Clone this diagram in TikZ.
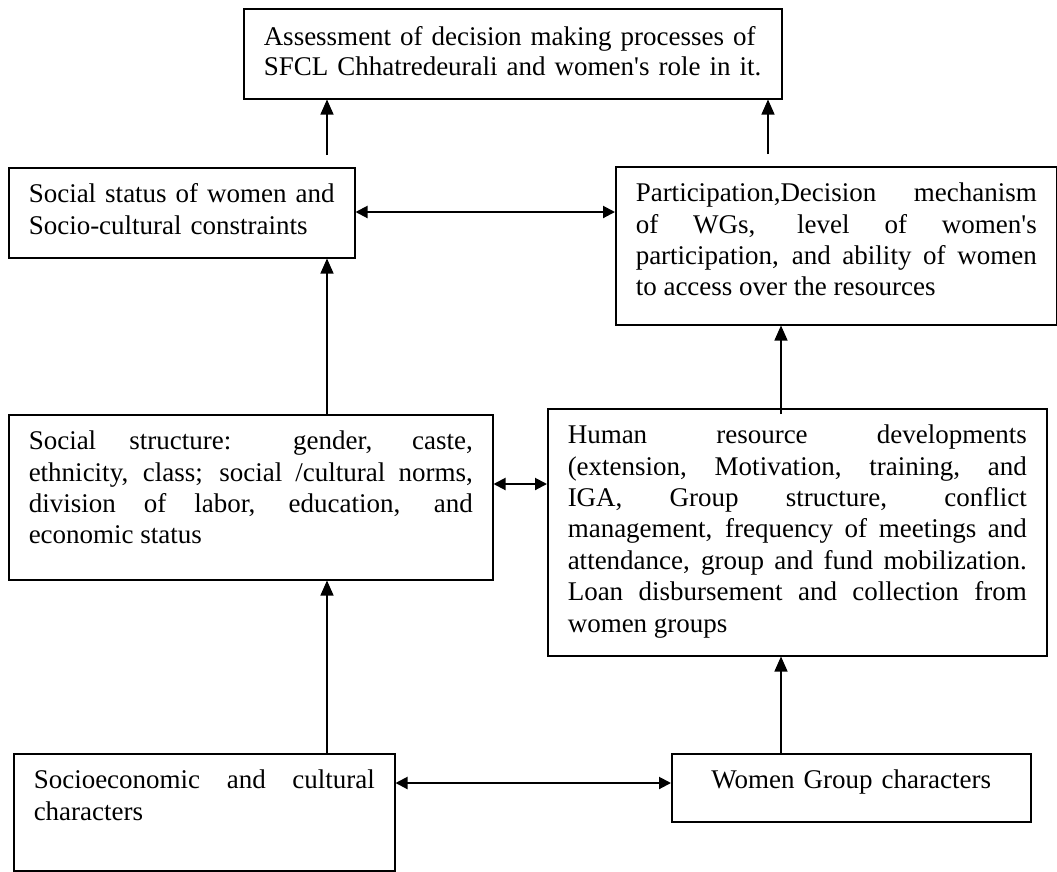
\documentclass[tikz,border=0pt]{standalone}
\usepackage{fontspec}
\setmainfont{Liberation Serif}
\usetikzlibrary{arrows.meta}

\tikzset{
    box/.style={draw, line width=1.5pt, anchor=north west, inner xsep=20pt, inner ysep=0pt,
        align=justify, font=\fontsize{27}{31.4}\selectfont, text height=35pt},
    link/.style={line width=1.3pt, -{Triangle[length=15pt,width=13pt]}},
    both/.style={line width=2pt, {Triangle[length=12pt,width=12pt]}-{Triangle[length=12pt,width=12pt]}},
}

\begin{document}
\begin{tikzpicture}[x=1pt, y=-1pt]
    \useasboundingbox (0,0) rectangle (1057,871);
    \node[box, align=left, text width=498pt, text height=37pt, text depth=53pt,
        font=\fontsize{27}{29.5}\selectfont] (assess) at (243,8)
        {Assessment of decision making processes of\\SFCL Chhatredeurali and women\textquotesingle s role in it.};
    \node[box, align=left, text width=306pt, text depth=55pt] (status) at (8,167)
        {Social status of women and\\Socio-cultural constraints};
    \node[box, text width=401pt, text depth=123pt] (particip) at (615,166)
        {Participation,Decision mechanism\linebreak
         of WGs, level of women\textquotesingle s\linebreak
         participation, and ability of women\linebreak
         to access over the resources};
    \node[box, text width=444pt, text depth=130pt] (structure) at (8,414)
        {Social structure: gender, caste,\linebreak
         ethnicity, class; social /cultural norms,\linebreak
         division of labor, education, and\linebreak
         economic status};
    \node[box, text width=459pt, text depth=212pt] (human) at (547,408)
        {Human resource developments\linebreak
         (extension, Motivation, training, and\linebreak
         IGA, Group structure, conflict\linebreak
         management, frequency of meetings and\linebreak
         attendance, group and fund mobilization.\linebreak
         Loan disbursement and collection from\linebreak
         women groups};
    \node[box, text width=341pt, text depth=82pt] (socio) at (13,753)
        {Socioeconomic and cultural\linebreak characters};
    \node[box, align=center, text width=319pt, text depth=33pt] (wgroup) at (671,753)
        {Women Group characters};

    % upward links
    \draw[link, shorten <=12pt] (327,0 |- status.north) -- (327,0 |- assess.south);
    \draw[link, shorten <=12pt] (768,0 |- particip.north) -- (768,0 |- assess.south);
    \draw[link] (327,0 |- structure.north) -- (327,0 |- status.south);
    \draw[link, shorten <=-6pt] (781,0 |- human.north) -- (781,0 |- particip.south);
    \draw[link] (327,0 |- socio.north) -- (327,0 |- structure.south);
    \draw[link] (781,0 |- wgroup.north) -- (781,0 |- human.south);

    % two-way links
    \draw[both] (status.east |- 0,212) -- (particip.west |- 0,212);
    \draw[both] (structure.east |- 0,484) -- (human.west |- 0,484);
    \draw[both] (socio.east |- 0,783) -- (wgroup.west |- 0,783);
\end{tikzpicture}
\end{document}
